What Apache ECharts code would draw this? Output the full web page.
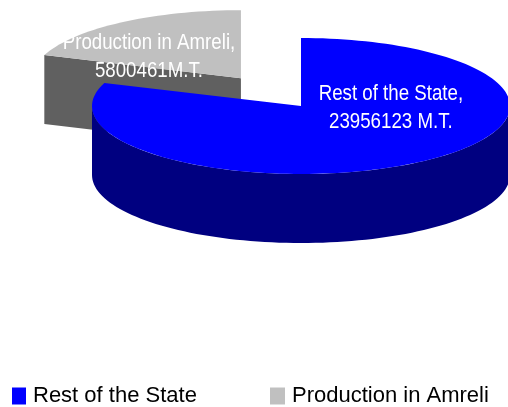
<!DOCTYPE html>
<html>
<head>
<meta charset="utf-8">
<style>
  html, body { margin: 0; padding: 0; background: #fff; }
  #chart { width: 508px; height: 407px; }
</style>
<script src="https://cdn.jsdelivr.net/npm/echarts@6/dist/echarts.min.js"></script>
</head>
<body>
<div id="chart"></div>
<script>
// data
const categories = ['Rest of the State', 'Production in Amreli'];
const values = [23956123, 5800461];
const units = [' M.T.', 'M.T.'];

// look
const topColors = ['#0000FF', '#C0C0C0'];
const sideColors = ['#000080', '#606060'];
const explode = [0, 0.5]; // fraction of radius
const labelAt = [[0.43, 0.03], [-0.44, -0.31]]; // relative to slice centre, in rx / ry units

// pie geometry (projected ellipse)
const CX = 301, CY = 106, RX = 209, RY = 68, DEPTH = 69;
const FONT = '"Liberation Sans", Arial, sans-serif';

const total = values.reduce((a, b) => a + b, 0);
const rad = (d) => d * Math.PI / 180;

function renderItem(params, api) {
  const i = api.value(0);
  let before = 0;
  for (let k = 0; k < i; k++) before += values[k];
  const start = before / total * 360;
  const end = start + api.value(1) / total * 360;
  const mid = rad((start + end) / 2);

  const cx = CX + explode[i] * RX * Math.sin(mid);
  const cy = CY - explode[i] * RY * Math.cos(mid);
  const pt = (deg, dz) => [cx + RX * Math.sin(rad(deg)), cy - RY * Math.cos(rad(deg)) + dz];
  const arc = (a, b, dz) => {
    const out = [];
    const n = Math.max(2, Math.ceil(Math.abs(b - a) / 2));
    for (let s = 0; s <= n; s++) out.push(pt(a + (b - a) * s / n, dz));
    return out;
  };

  const children = [];
  const side = sideColors[i];

  // outer wall, only the front half is seen
  const lo = Math.max(start, 90), hi = Math.min(end, 270);
  if (lo < hi) {
    children.push({
      type: 'polygon',
      shape: { points: arc(lo, hi, 0).concat(arc(hi, lo, DEPTH)) },
      style: { fill: side }
    });
  }

  // cut faces
  const faces = [[start, start - 90], [end, end + 90]];
  faces.forEach(([ang, normal]) => {
    if (Math.cos(rad(normal)) < -1e-6) {
      const p = pt(ang, 0), q = pt(ang, DEPTH);
      children.push({
        type: 'polygon',
        shape: { points: [[cx, cy], p, q, [cx, cy + DEPTH]] },
        style: { fill: side }
      });
    }
  });

  // top face
  children.push({
    type: 'polygon',
    shape: { points: [[cx, cy]].concat(arc(start, end, 0)) },
    style: { fill: topColors[i] }
  });

  // label (squeezed, the original font is a narrow one)
  children.push({
    type: 'text',
    x: cx + labelAt[i][0] * RX,
    y: cy + labelAt[i][1] * RY,
    scaleX: 0.85,
    style: {
      text: categories[i] + ',\n' + values[i] + units[i],
      fill: '#ffffff',
      fontSize: 22,
      fontFamily: FONT,
      align: 'center',
      verticalAlign: 'middle',
      lineHeight: 28
    }
  });

  return { type: 'group', children };
}

const chart = echarts.init(document.getElementById('chart'), null, { renderer: 'canvas' });

const legendText = { fontSize: 22, fontFamily: FONT, color: '#000', padding: [0, 0, 0, 2] };

chart.setOption({
  animation: false,
  legend: [
    {
      data: [categories[0]],
      left: 12, top: 385, padding: 0,
      icon: 'rect', itemWidth: 14, itemHeight: 17,
      textStyle: legendText,
      selectedMode: false
    },
    {
      data: [categories[1]],
      left: 270, top: 385, padding: 0,
      icon: 'rect', itemWidth: 15, itemHeight: 17,
      textStyle: legendText,
      selectedMode: false
    }
  ],
  series: categories.map((name, i) => ({
    type: 'custom',
    name: name,
    coordinateSystem: 'none',
    renderItem: renderItem,
    itemStyle: { color: topColors[i] },
    z: i === 0 ? 3 : 2,
    silent: true,
    data: [[i, values[i]]]
  }))
});
</script>
</body>
</html>
